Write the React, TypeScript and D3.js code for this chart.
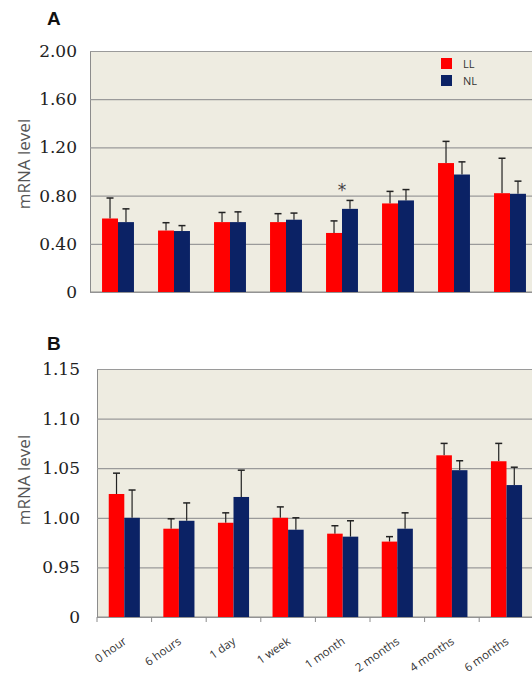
import { useEffect, useRef } from 'react'
import * as d3 from 'd3'

// time points after light exposure
const categories = ['0 hour', '6 hours', '1 day', '1 week', '1 month', '2 months', '4 months', '6 months']
const seriesNames = ['LL', 'NL']
const seriesColors = ['#ff0000', '#0b2265']

// panel A: mean mRNA level and upper error (SD)
const llA = [0.61, 0.51, 0.58, 0.58, 0.49, 0.735, 1.07, 0.82]
const llErrA = [0.17, 0.065, 0.08, 0.07, 0.1, 0.1, 0.18, 0.29]
const nlA = [0.58, 0.506, 0.58, 0.6, 0.69, 0.76, 0.975, 0.815]
const nlErrA = [0.11, 0.045, 0.085, 0.055, 0.07, 0.09, 0.105, 0.105]
const sigA = ['', '', '', '', '*', '', '', '']
const ticksA = [0, 0.4, 0.8, 1.2, 1.6, 2.0]
const tickLabelsA = ['0', '0.40', '0.80', '1.20', '1.60', '2.00']

// panel B (broken axis, bottom tick shown as 0)
const llB = [1.024, 0.989, 0.995, 1.0, 0.984, 0.976, 1.063, 1.057]
const llErrB = [0.021, 0.01, 0.01, 0.011, 0.008, 0.005, 0.012, 0.018]
const nlB = [1.0, 0.997, 1.021, 0.988, 0.981, 0.989, 1.048, 1.033]
const nlErrB = [0.028, 0.018, 0.027, 0.012, 0.016, 0.016, 0.0095, 0.018]
const ticksB = [0.9, 0.95, 1.0, 1.05, 1.1, 1.15]
const tickLabelsB = ['0', '0.95', '1.00', '1.05', '1.10', '1.15']

type Panel = {
  letter: string
  left: number
  top: number
  bottom: number
  step: number
  values: number[][]
  errors: number[][]
  ticks: number[]
  tickLabels: string[]
  labelGap: number
  titleY: number
  yLabelY: number
  sig?: string[]
  xLabels: boolean
  legend: boolean
}

const App = () => {
  const svgRef = useRef<SVGSVGElement>(null)

  function drawPanel(svg: any, p: Panel) {
    const g = svg.append('g')
    const right = p.left + p.step * categories.length

    const x = d3.scaleBand().domain(categories).range([p.left, right]).paddingInner(0.43).paddingOuter(0.215)
    const xs = d3.scaleBand().domain(seriesNames).range([0, x.bandwidth()])
    const y = d3
      .scaleLinear()
      .domain([p.ticks[0], p.ticks[p.ticks.length - 1]])
      .range([p.bottom, p.top])

    g.append('rect')
      .attr('x', p.left)
      .attr('y', p.top)
      .attr('width', right - p.left)
      .attr('height', p.bottom - p.top)
      .attr('fill', '#eeece1')

    const yAxis = d3
      .axisLeft(y)
      .tickValues(p.ticks)
      .tickSize(-(right - p.left))
      .tickFormat((_d: any, i: number) => p.tickLabels[i])

    const yg = g.append('g').attr('transform', `translate(${p.left},0)`).call(yAxis)
    yg.select('.domain').attr('stroke', '#8c8c8c')
    yg.selectAll('.tick line').attr('stroke', '#9a9a9a').attr('stroke-width', 1.2)
    yg.selectAll('.tick text')
      .attr('x', -p.labelGap)
      .attr('font-family', 'DejaVu Serif')
      .attr('font-size', 17)
      .attr('fill', '#222')

    // bottom axis with ticks between categories
    const bx = g.append('g')
    bx.append('line')
      .attr('x1', p.left)
      .attr('x2', right)
      .attr('y1', p.bottom)
      .attr('y2', p.bottom)
      .attr('stroke', '#8c8c8c')
      .attr('stroke-width', 1.2)
    if (p.xLabels) {
      bx.selectAll('line.tk')
        .data(categories)
        .join('line')
        .attr('class', 'tk')
        .attr('x1', (d: string) => x(d)! - x.step() * 0.215)
        .attr('x2', (d: string) => x(d)! - x.step() * 0.215)
        .attr('y1', p.bottom)
        .attr('y2', p.bottom + 5)
        .attr('stroke', '#8c8c8c')

      bx.selectAll('text')
        .data(categories)
        .join('text')
        .attr('transform', (d: string) => {
          const cx = x(d)! + x.bandwidth() / 2 + 3
          return `translate(${cx},${p.bottom + 26}) rotate(-35)`
        })
        .attr('text-anchor', 'end')
        .attr('font-family', 'Open Sans')
        .attr('font-size', 11.5)
        .attr('fill', '#333')
        .text((d: string) => d)
    }

    // bars
    const rows = categories.map((c, i) => ({ c, i }))
    const grp = g
      .selectAll('g.grp')
      .data(rows)
      .join('g')
      .attr('class', 'grp')
      .attr('transform', (d: any) => `translate(${x(d.c)},0)`)

    seriesNames.forEach((s, si) => {
      grp.append('line')
        .attr('x1', xs(s)! + xs.bandwidth() / 2)
        .attr('x2', xs(s)! + xs.bandwidth() / 2)
        .attr('y1', (d: any) => y(p.values[si][d.i]))
        .attr('y2', (d: any) => y(p.values[si][d.i] + p.errors[si][d.i]))
        .attr('stroke', '#222')
        .attr('stroke-width', 1.2)
      grp.append('line')
        .attr('x1', xs(s)! + xs.bandwidth() / 2 - 3.5)
        .attr('x2', xs(s)! + xs.bandwidth() / 2 + 3.5)
        .attr('y1', (d: any) => y(p.values[si][d.i] + p.errors[si][d.i]))
        .attr('y2', (d: any) => y(p.values[si][d.i] + p.errors[si][d.i]))
        .attr('stroke', '#222')
        .attr('stroke-width', 1.5)
      grp.append('rect')
        .attr('x', xs(s)!)
        .attr('width', xs.bandwidth())
        .attr('y', (d: any) => y(p.values[si][d.i]))
        .attr('height', (d: any) => p.bottom - y(p.values[si][d.i]))
        .attr('fill', seriesColors[si])
    })

    if (p.sig) {
      grp.filter((d: any) => p.sig![d.i] !== '')
        .append('text')
        .attr('x', x.bandwidth() / 2)
        .attr('y', (d: any) => {
          const top = Math.max(...p.values.map((v, si) => v[d.i] + p.errors[si][d.i]))
          return y(top) - 4
        })
        .attr('text-anchor', 'middle')
        .attr('font-family', 'DejaVu Sans')
        .attr('font-size', 17)
        .attr('fill', '#444')
        .text((d: any) => p.sig![d.i])
    }

    // panel letter and y label
    g.append('text')
      .attr('x', 47)
      .attr('y', p.titleY)
      .attr('font-family', 'Liberation Sans')
      .attr('font-weight', 'bold')
      .attr('font-size', 19)
      .attr('fill', '#111')
      .text(p.letter)

    g.append('text')
      .attr('transform', `translate(30,${p.yLabelY}) rotate(-90)`)
      .attr('text-anchor', 'middle')
      .attr('font-family', 'Open Sans')
      .attr('font-size', 17)
      .attr('fill', '#555')
      .text('mRNA level')

    if (p.legend) {
      const lg = g.append('g').attr('transform', `translate(441,58)`)
      seriesNames.forEach((s, si) => {
        lg.append('rect')
          .attr('x', 0)
          .attr('y', si * 17)
          .attr('width', 11)
          .attr('height', 11)
          .attr('fill', seriesColors[si])
        lg.append('text')
          .attr('x', 22)
          .attr('y', si * 17 + 10)
          .attr('font-family', 'Open Sans')
          .attr('font-size', 11)
          .attr('fill', '#333')
          .text(s)
      })
    }
  }

  useEffect(() => {
    const svg = d3.select(svgRef.current)
    svg.selectAll('*').remove()

    drawPanel(svg, {
      letter: 'A',
      left: 90,
      top: 51,
      bottom: 292,
      step: 56,
      values: [llA, nlA],
      errors: [llErrA, nlErrA],
      ticks: ticksA,
      tickLabels: tickLabelsA,
      labelGap: 13,
      titleY: 25,
      yLabelY: 164,
      sig: sigA,
      xLabels: false,
      legend: true,
    })

    drawPanel(svg, {
      letter: 'B',
      left: 97,
      top: 369,
      bottom: 617,
      step: 54.6,
      values: [llB, nlB],
      errors: [llErrB, nlErrB],
      ticks: ticksB,
      tickLabels: tickLabelsB,
      labelGap: 17,
      titleY: 350,
      yLabelY: 480,
      xLabels: true,
      legend: false,
    })
  }, [])

  return (
    <svg
      ref={svgRef}
      width={532}
      height={674}
      style={{ position: 'absolute', left: 0, top: 0, background: '#fff' }}
    ></svg>
  )
}

export default App
